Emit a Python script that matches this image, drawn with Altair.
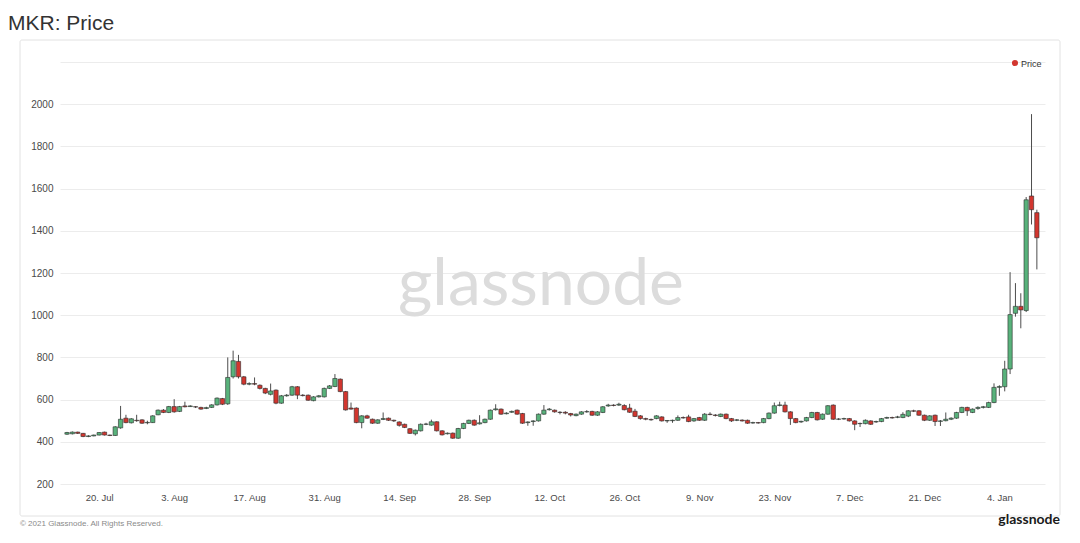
import altair as alt
import pandas as pd

# ---- data (daily MKR candles, 14 Jul 2020 .. 11 Jan 2021) ----
start_date = "2020-07-14"
opens = [436, 438, 446, 440, 425, 428, 432, 446, 432, 430, 466, 512, 490, 502, 504, 490, 491, 528, 550, 539,
         567, 544, 570, 567, 566, 563, 558, 563, 575, 605, 580, 708, 781, 708, 673, 676, 668, 653, 625, 645,
         583, 618, 621, 661, 621, 621, 595, 613, 613, 653, 662, 697, 638, 560, 560, 491, 523, 507, 488, 506,
         512, 502, 494, 483, 462, 438, 452, 483, 479, 495, 452, 438, 441, 417, 463, 487, 502, 485, 491, 507,
         552, 555, 533, 540, 550, 534, 491, 496, 499, 531, 552, 550, 540, 540, 534, 524, 531, 542, 544, 526,
         539, 570, 574, 574, 572, 560, 545, 523, 510, 506, 510, 518, 499, 500, 502, 515, 518, 499, 515, 502,
         531, 527, 520, 531, 510, 502, 503, 502, 489, 491, 491, 510, 536, 572, 574, 542, 510, 494, 499, 515,
         539, 507, 531, 574, 507, 508, 510, 499, 486, 486, 499, 494, 496, 512, 515, 516, 515, 522, 547, 547,
         526, 502, 526, 497, 500, 507, 512, 539, 563, 539, 558, 563, 563, 586, 658, 661, 745, 1009, 1042, 1022,
         1565, 1486]
highs = [447, 449, 448, 442, 431, 434, 446, 448, 434, 474, 570, 528, 512, 528, 507, 500, 526, 553, 555, 570,
         602, 570, 590, 573, 569, 566, 566, 578, 610, 608, 800, 832, 812, 712, 682, 705, 672, 656, 676, 648,
         622, 626, 665, 664, 626, 624, 616, 622, 657, 669, 721, 700, 641, 586, 563, 526, 528, 510, 507, 539,
         515, 505, 497, 486, 465, 458, 487, 490, 505, 497, 455, 444, 444, 466, 490, 505, 506, 526, 510, 553,
         578, 558, 540, 548, 553, 537, 497, 502, 534, 574, 560, 553, 545, 545, 537, 534, 545, 550, 547, 545,
         569, 580, 578, 585, 578, 580, 556, 527, 514, 510, 526, 521, 503, 505, 525, 520, 528, 513, 518, 536,
         540, 531, 534, 534, 513, 508, 506, 505, 495, 494, 513, 539, 586, 590, 590, 545, 513, 500, 518, 542,
         542, 534, 574, 577, 512, 514, 513, 502, 491, 506, 502, 500, 513, 519, 519, 523, 540, 550, 552, 550,
         529, 526, 529, 503, 539, 516, 542, 566, 566, 558, 568, 570, 590, 677, 668, 784, 1204, 1152, 1104, 1560,
         1953, 1500]
lows = [433, 435, 437, 422, 422, 426, 430, 430, 427, 428, 462, 488, 487, 495, 485, 483, 489, 526, 536, 536,
        538, 541, 563, 565, 560, 552, 555, 560, 572, 574, 575, 700, 700, 668, 668, 668, 648, 626, 620, 578,
        580, 614, 618, 602, 615, 594, 592, 610, 610, 650, 659, 635, 548, 552, 488, 464, 509, 485, 485, 503,
        499, 494, 472, 465, 437, 430, 449, 479, 476, 449, 430, 435, 414, 414, 460, 484, 476, 482, 488, 504,
        548, 528, 530, 537, 528, 485, 476, 476, 496, 528, 548, 538, 530, 530, 520, 521, 528, 538, 523, 523,
        536, 566, 568, 570, 549, 537, 517, 505, 502, 500, 507, 496, 490, 490, 499, 510, 493, 495, 499, 499,
        526, 520, 517, 507, 494, 498, 496, 485, 486, 486, 488, 507, 533, 568, 539, 480, 488, 490, 496, 512,
        501, 504, 528, 504, 503, 505, 496, 455, 470, 483, 480, 490, 493, 509, 510, 512, 512, 517, 541, 523,
        498, 499, 475, 475, 497, 503, 509, 536, 523, 536, 552, 558, 560, 583, 618, 639, 721, 993, 938, 1015,
        1430, 1217]
closes = [444, 446, 440, 425, 428, 432, 444, 432, 430, 471, 507, 491, 509, 500, 488, 492, 523, 550, 539, 567,
          542, 567, 566, 570, 565, 555, 562, 575, 607, 578, 705, 784, 708, 673, 676, 673, 653, 631, 641, 583,
          618, 621, 661, 621, 619, 597, 613, 618, 653, 665, 700, 638, 551, 555, 491, 523, 512, 488, 504, 510,
          502, 499, 478, 468, 440, 455, 483, 484, 495, 452, 433, 441, 417, 463, 487, 502, 479, 490, 507, 550,
          556, 531, 536, 544, 531, 488, 494, 499, 531, 550, 555, 542, 539, 536, 527, 531, 542, 543, 526, 542,
          566, 574, 572, 578, 552, 540, 520, 510, 507, 504, 523, 499, 501, 502, 515, 513, 496, 510, 502, 531,
          529, 525, 531, 510, 499, 504, 499, 488, 491, 489, 510, 536, 571, 575, 542, 510, 491, 497, 515, 539,
          504, 531, 571, 507, 508, 510, 499, 483, 487, 502, 483, 496, 510, 515, 513, 518, 530, 547, 545, 526,
          502, 523, 496, 499, 507, 512, 539, 563, 547, 555, 563, 566, 586, 658, 662, 745, 1003, 1042, 1025, 1547,
          1500, 1367]

tick_dates = [(2020, 7, 20), (2020, 8, 3), (2020, 8, 17), (2020, 8, 31), (2020, 9, 14), (2020, 9, 28),
              (2020, 10, 12), (2020, 10, 26), (2020, 11, 9), (2020, 11, 23), (2020, 12, 7), (2020, 12, 21),
              (2021, 1, 4)]
y_ticks = [200, 400, 600, 800, 1000, 1200, 1400, 1600, 1800, 2000, 2200]

title_text = ["MKR: Price"]
legend_text = ["Price"]
watermark_text = ["glassnode"]
footer_text = ["© 2021 Glassnode. All Rights Reserved."]
logo_text = ["glassnode"]

GREEN = "#58b27b"
RED = "#d2362f"

dates = pd.date_range(start_date, periods=len(opens), freq="D").strftime("%Y-%m-%dT00:00:00Z")
df = pd.DataFrame({"date": dates, "open": opens, "high": highs, "low": lows, "close": closes})
df["dir"] = ["up" if c >= o else "down" for o, c in zip(opens, closes)]

FONT = "Liberation Sans"

x_enc = alt.X(
    "date:T",
    scale=alt.Scale(type="utc", domain=[
        alt.DateTime(year=2020, month=7, date=13, hours=15, utc=True),
        alt.DateTime(year=2021, month=1, date=11, hours=14, utc=True)]),
    axis=alt.Axis(
        values=[alt.DateTime(year=y, month=m, date=d, utc=True) for (y, m, d) in tick_dates],
        format="%-d. %b", title=None, grid=False, domain=False, ticks=False,
        labelPadding=8, labelFontSize=9.5, labelColor="#4a4a4a", labelFont=FONT),
)
y_scale = alt.Scale(domain=[200, 2200], nice=False, zero=False)
y_axis = alt.Axis(values=y_ticks, title=None, domain=False, ticks=False, grid=True,
                  gridColor="#ececec", gridWidth=1, labelPadding=7, labelFontSize=10,
                  labelColor="#4a4a4a", labelFont=FONT, format="d",
                  labelExpr="datum.value == 2200 ? '' : datum.label")

base = alt.Chart(df)

wicks = base.mark_rule(color="#4d4d4d", strokeWidth=1).encode(
    x=x_enc,
    y=alt.Y("low:Q", scale=y_scale, axis=y_axis),
    y2="high:Q",
)
bodies = base.mark_bar(size=4.3, stroke="#2e2e2e", strokeWidth=0.6).encode(
    x="date:T",
    y=alt.Y("open:Q"),
    y2="close:Q",
    color=alt.Color("dir:N", scale=alt.Scale(domain=["up", "down"], range=[GREEN, RED]), legend=None),
)

panel = alt.Chart(pd.DataFrame({"t": title_text})).mark_rect(
    fill="white", fillOpacity=0, stroke="#e2e2e2", strokeWidth=1, cornerRadius=2
).encode(x=alt.value(-40), x2=alt.value(1000), y=alt.value(-22), y2=alt.value(454))

title = alt.Chart(pd.DataFrame({"t": title_text})).mark_text(
    align="left", baseline="alphabetic", fontSize=21, color="#333333", font=FONT
).encode(x=alt.value(-52), y=alt.value(-32), text="t:N")

watermark = alt.Chart(pd.DataFrame({"t": watermark_text})).mark_text(
    align="center", baseline="middle", fontSize=66, color="#dcdcdc", font="Lato"
).encode(x=alt.value(481), y=alt.value(223), text="t:N")

legend_dot = alt.Chart(pd.DataFrame({"t": legend_text})).mark_circle(
    size=38, color=RED, opacity=1
).encode(x=alt.value(955), y=alt.value(1))
legend_lbl = alt.Chart(pd.DataFrame({"t": legend_text})).mark_text(
    align="left", baseline="middle", fontSize=9, color="#333333", font=FONT
).encode(x=alt.value(961), y=alt.value(1.5), text="t:N")

footer = alt.Chart(pd.DataFrame({"t": footer_text})).mark_text(
    align="left", baseline="alphabetic", fontSize=8, color="#8a8a8a", font=FONT
).encode(x=alt.value(-40), y=alt.value(464), text="t:N")
logo = alt.Chart(pd.DataFrame({"t": logo_text})).mark_text(
    align="right", baseline="alphabetic", fontSize=14, fontWeight="bold", color="#1a1a1a", font="Lato"
).encode(x=alt.value(1000), y=alt.value(462), text="t:N")

chart = alt.layer(
    panel, watermark, wicks, bodies, legend_dot, legend_lbl, title, footer, logo
).properties(
    width=985, height=422,
    padding={"left": 52, "top": 54, "right": 27, "bottom": 44},
    autosize=alt.AutoSizeParams(type="none"),
    background="white",
).configure_view(strokeWidth=0)

chart.save("out.html", embed_options={"renderer": "svg", "actions": False})
